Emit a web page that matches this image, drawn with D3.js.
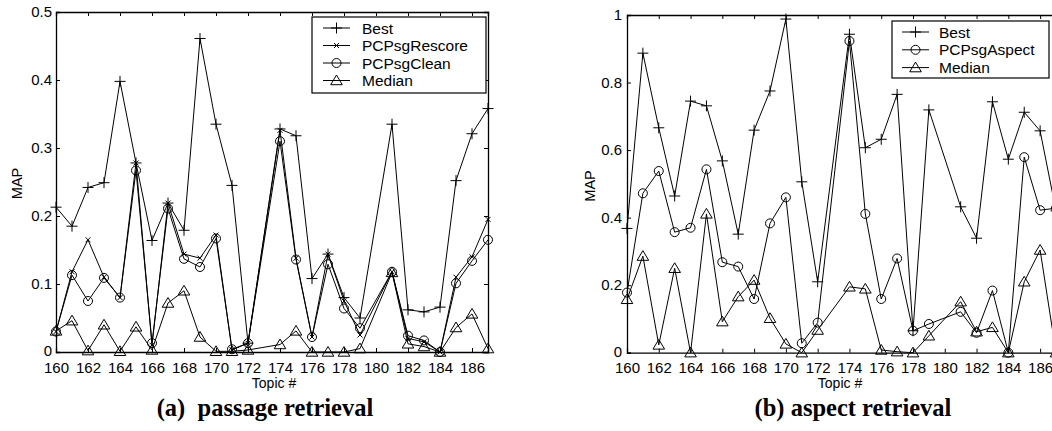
<!DOCTYPE html>
<html><head><meta charset="utf-8">
<script src="https://cdn.jsdelivr.net/npm/d3@7"></script>
<style>body{margin:0;background:#fff}svg{display:block}</style>
</head><body>
<svg id="c" width="1052" height="431"></svg>
<script>
// Topics (173 and 180 not evaluated)
const topics = [160,161,162,163,164,165,166,167,168,169,170,171,172,174,175,176,177,178,179,181,182,183,184,185,186,187];
const xTickLabels = [160,162,164,166,168,170,172,174,176,178,180,182,184,186];
const yTicksA = [0,0.1,0.2,0.3,0.4,0.5];
const yTicksB = [0,0.2,0.4,0.6,0.8,1];

// (a) passage retrieval
const aBest    = [0.213,0.185,0.242,0.249,0.398,0.278,0.164,0.219,0.179,0.461,0.335,0.245,0.013,0.328,0.318,0.108,0.144,0.080,0.050,0.335,0.062,0.059,0.066,0.252,0.321,0.358];
const aRescore = [0.030,0.118,0.165,0.110,0.080,0.278,0.010,0.219,0.144,0.138,0.172,0.003,0.013,0.326,0.138,0.022,0.144,0.075,0.025,0.118,0.020,0.015,0.000,0.110,0.140,0.195];
const aClean   = [0.030,0.113,0.075,0.109,0.080,0.267,0.013,0.211,0.137,0.125,0.167,0.004,0.013,0.310,0.136,0.022,0.129,0.064,0.035,0.118,0.024,0.017,0.000,0.101,0.134,0.165];
const aMedian  = [0.031,0.046,0.002,0.040,0.001,0.037,0.003,0.072,0.090,0.022,0.001,0.001,0.003,0.011,0.031,0.000,0.000,0.000,0.005,0.117,0.012,0.008,0.000,0.036,0.056,0.005];

// (b) aspect retrieval
const bBest    = [0.368,0.887,0.666,0.464,0.745,0.731,0.568,0.351,0.659,0.775,0.988,0.506,0.210,0.943,0.607,0.632,0.765,0.065,0.719,0.432,0.339,0.743,0.573,0.712,0.657,0.420];
const bAspect  = [0.178,0.472,0.538,0.357,0.370,0.543,0.268,0.255,0.159,0.383,0.460,0.028,0.089,0.923,0.411,0.159,0.279,0.065,0.085,0.121,0.059,0.184,0.000,0.579,0.422,0.428];
const bMedian  = [0.158,0.286,0.023,0.250,0.000,0.411,0.092,0.166,0.215,0.102,0.026,0.000,0.067,0.195,0.189,0.008,0.003,0.000,0.050,0.151,0.062,0.075,0.000,0.210,0.304,0.000];

const svg = d3.select("#c");
const SANS = "'Liberation Sans', Arial, sans-serif";
const SERIF = "'Liberation Serif', 'Times New Roman', serif";

function marker(g, type, x, y) {
  if (type === "plus") {
    g.append("path").attr("d", `M${x-5.5},${y}H${x+5.5}M${x},${y-5.5}V${y+5.5}`)
      .attr("stroke", "#000").attr("stroke-width", 1).attr("fill", "none");
  } else if (type === "x") {
    g.append("path").attr("d", `M${x-2.5},${y-2.5}L${x+2.5},${y+2.5}M${x-2.5},${y+2.5}L${x+2.5},${y-2.5}`)
      .attr("stroke", "#000").attr("stroke-width", 1).attr("fill", "none");
  } else if (type === "circle") {
    g.append("circle").attr("cx", x).attr("cy", y).attr("r", 4.5)
      .attr("stroke", "#000").attr("stroke-width", 1).attr("fill", "none");
  } else if (type === "tri") {
    g.append("path").attr("d", `M${x},${y-5.5}L${x+5.8},${y+4.2}L${x-5.8},${y+4.2}Z`)
      .attr("stroke", "#000").attr("stroke-width", 1).attr("fill", "none");
  }
}

function panel(cfg) {
  const x = d3.scaleLinear().domain([160,187]).range([cfg.x0, cfg.x1]);
  const y = d3.scaleLinear().domain([0, cfg.ymax]).range([cfg.y0, cfg.y1]);
  const g = svg.append("g");
  const clipId = "clip" + cfg.id;
  svg.append("clipPath").attr("id", clipId).append("rect")
    .attr("x", 0).attr("y", 0).attr("width", 1052).attr("height", 431);

  // Axes via d3 axes (ticks inward)
  const bottom = d3.axisBottom(x).tickValues(xTickLabels).tickSize(-4).tickPadding(10).tickFormat(d3.format("d"));
  const top = d3.axisTop(x).tickValues(xTickLabels).tickSize(-4).tickFormat("");
  const left = d3.axisLeft(y).tickValues(cfg.yticks).tickSize(-4).tickPadding(cfg.ypad)
    .tickFormat(d => d === 0 ? "0" : (cfg.ymax === 1 && d === 1 ? "1" : d3.format(".1f")(d)));
  const right = d3.axisRight(y).tickValues(cfg.yticks).tickSize(-4).tickFormat("");

  const ax = [
    g.append("g").attr("transform", `translate(0,${cfg.y0})`).call(bottom),
    g.append("g").attr("transform", `translate(0,${cfg.y1})`).call(top),
    g.append("g").attr("transform", `translate(${cfg.x0},0)`).call(left),
    g.append("g").attr("transform", `translate(${cfg.x1},0)`).call(right)
  ];
  ax.forEach(a => {
    a.select(".domain").attr("stroke", "#000").attr("stroke-width", 1.3);
    a.selectAll(".tick line").attr("stroke", "#000");
    a.selectAll("text").attr("font-family", SANS).attr("font-size", 15).attr("fill", "#000");
  });
  // nudge the y "0" label up slightly so it clears the x labels
  ax[2].selectAll(".tick").filter(d => d === 0).select("text").attr("dy", "0.22em");

  // Series
  const line = d3.line().x((d,i) => x(topics[i])).y(d => y(d));
  const sg = g.append("g").attr("clip-path", `url(#${clipId})`);
  cfg.series.forEach(s => {
    sg.append("path").datum(s.values).attr("d", line)
      .attr("fill", "none").attr("stroke", "#000").attr("stroke-width", 1);
    s.values.forEach((v,i) => marker(sg, s.type, x(topics[i]), y(v)));
  });

  // Labels
  g.append("text").attr("x", cfg.xlabX).attr("y", 388).attr("text-anchor", "middle")
    .attr("font-family", SANS).attr("font-size", 14).text("Topic #");
  g.append("text").attr("transform", `translate(${cfg.ylabX},${cfg.ylabY}) rotate(-90)`)
    .attr("text-anchor", "middle").attr("font-family", SANS).attr("font-size", 14.5).text("MAP");
  g.append("text").attr("x", cfg.capX).attr("y", 416).attr("text-anchor", "middle")
    .attr("font-family", SERIF).attr("font-weight", "bold").attr("font-size", 24.5)
    .style("white-space", "pre").text(cfg.caption);

  // Legend
  const L = cfg.legend;
  const lg = g.append("g");
  lg.append("rect").attr("x", L.x).attr("y", L.y).attr("width", L.w).attr("height", L.h)
    .attr("fill", "#fff").attr("stroke", "#000").attr("stroke-width", 1.2);
  cfg.series.forEach((s, i) => {
    const yy = L.y + L.first + i * L.step;
    lg.append("line").attr("x1", L.lx0).attr("x2", L.lx1).attr("y1", yy).attr("y2", yy)
      .attr("stroke", "#000").attr("stroke-width", 1);
    marker(lg, s.type, (L.lx0 + L.lx1) / 2, yy);
    lg.append("text").attr("x", L.tx).attr("y", yy + 5.5).attr("font-family", SANS)
      .attr("font-size", 15.5).text(s.name);
  });
}

panel({
  id: "a", x0: 56, x1: 488, y0: 352, y1: 12, ymax: 0.5, yticks: yTicksA, ypad: 4,
  xlabX: 274, ylabX: 22, ylabY: 183.5, capX: 265, caption: "(a)  passage retrieval",
  series: [
    {name: "Best", type: "plus", values: aBest},
    {name: "PCPsgRescore", type: "x", values: aRescore},
    {name: "PCPsgClean", type: "circle", values: aClean},
    {name: "Median", type: "tri", values: aMedian}
  ],
  legend: {x: 312, y: 17, w: 174, h: 76, first: 11, step: 17.5, lx0: 323, lx1: 350, tx: 362}
});

panel({
  id: "b", x0: 627, x1: 1056, y0: 352.7, y1: 15, ymax: 1, yticks: yTicksB, ypad: 5,
  xlabX: 840, ylabX: 595, ylabY: 186, capX: 853, caption: "(b) aspect retrieval",
  series: [
    {name: "Best", type: "plus", values: bBest},
    {name: "PCPsgAspect", type: "circle", values: bAspect},
    {name: "Median", type: "tri", values: bMedian}
  ],
  legend: {x: 892, y: 21, w: 157, h: 57, first: 11, step: 17.8, lx0: 902, lx1: 929, tx: 939}
});
</script>
</body></html>
